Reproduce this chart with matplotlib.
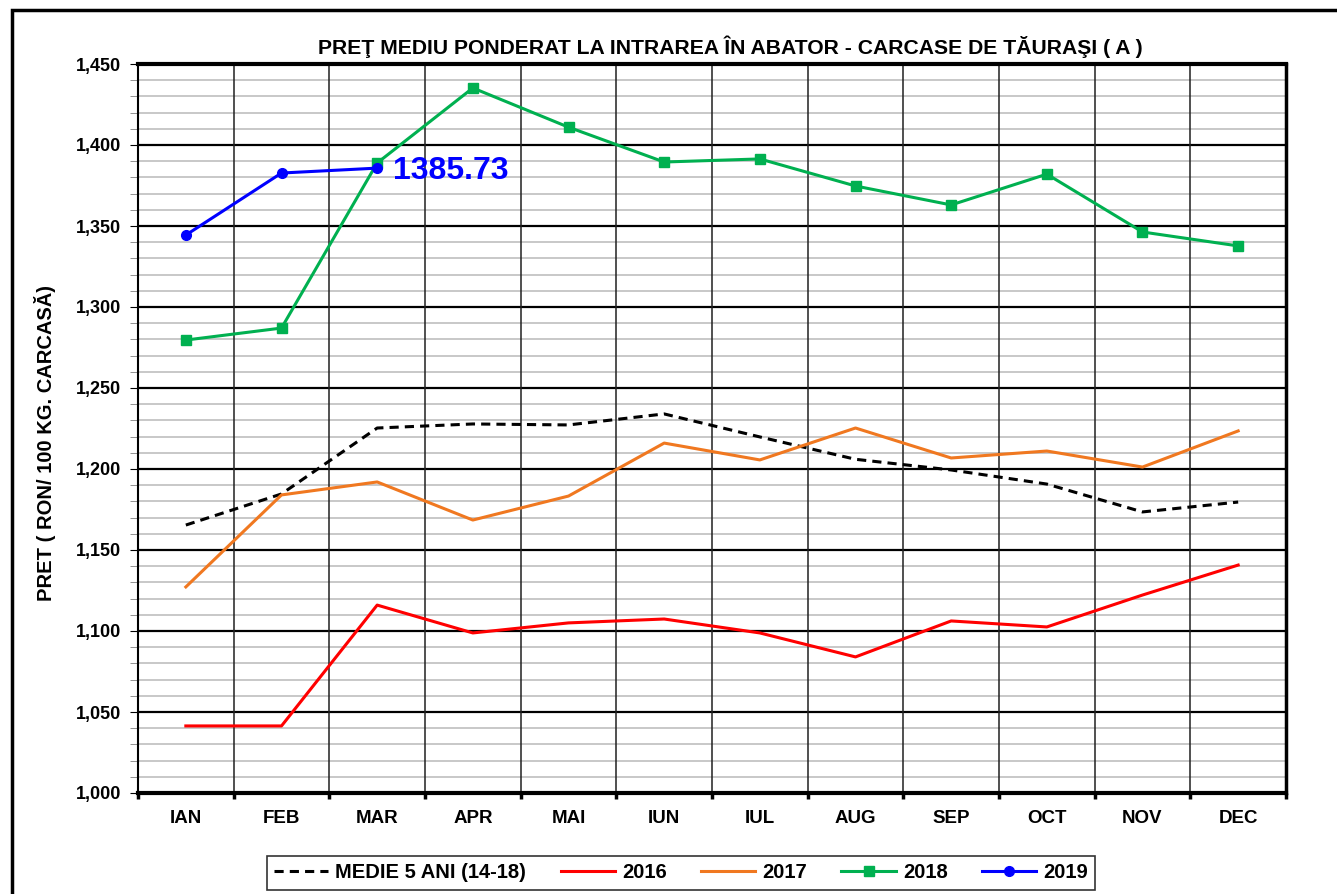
import numpy as np
import matplotlib.pyplot as plt
from matplotlib.ticker import MultipleLocator, FuncFormatter
from matplotlib.patches import Rectangle

plt.rcParams['font.family'] = ['Liberation Sans', 'DejaVu Sans']
plt.rcParams['font.weight'] = 'bold'

# Luni
luni = ["IAN", "FEB", "MAR", "APR", "MAI", "IUN", "IUL", "AUG", "SEP", "OCT", "NOV", "DEC"]

# Serii de pret (RON / 100 kg carcasa)
medie_5ani = [1165.4, 1184.6, 1225.3, 1227.8, 1227.2, 1234.0, 1219.8, 1206.0, 1199.4, 1190.7, 1173.5, 1179.6]
an_2016 = [1041.4, 1041.4, 1116.0, 1098.8, 1105.0, 1107.4, 1098.8, 1084.0, 1106.2, 1102.5, 1122.2, 1140.7]
an_2017 = [1127.2, 1184.0, 1192.0, 1168.5, 1183.3, 1216.0, 1205.6, 1225.3, 1206.8, 1211.1, 1201.2, 1223.5]
an_2018 = [1279.6, 1287.0, 1388.9, 1435.2, 1411.0, 1389.5, 1391.4, 1374.7, 1363.0, 1382.0, 1346.3, 1337.7]
an_2019 = [1344.4, 1382.7, 1385.73]

x = np.arange(len(luni))

fig = plt.figure(figsize=(13.37, 8.94), dpi=100)
ax = fig.add_axes([138/1337, 1-793/894, (1286-138)/1337, (793-64)/894])

# chenar exterior
fig.patches.append(Rectangle((12/1337, -0.1), 1.2, 1-10/894+0.1, transform=fig.transFigure,
                             fill=False, edgecolor='black', linewidth=2.5))

ax.set_xlim(-0.5, 11.5)
ax.set_ylim(1000, 1450)

# grila
ax.yaxis.set_major_locator(MultipleLocator(50))
ax.yaxis.set_minor_locator(MultipleLocator(10))
limite = np.arange(-0.5, len(luni), 1)
ax.set_xticks(limite, minor=True)
ax.grid(which='minor', axis='y', color='#c4c4c4', linewidth=1.3, zorder=0.5)
ax.grid(which='major', axis='y', color='black', linewidth=1.6, zorder=0.5)
ax.vlines(limite[1:-1], 1000, 1450, colors='#202020', linewidth=1.1, zorder=0.8)
ax.set_axisbelow(True)

ax.plot(x, medie_5ani, color='black', linestyle=(0, (3, 2)), lw=2.2, label='MEDIE 5 ANI (14-18)')
ax.plot(x, an_2016, color='#ff0000', lw=2.2, label='2016')
ax.plot(x, an_2017, color='#f07820', lw=2.2, label='2017')
ax.plot(x, an_2018, color='#00b050', lw=2.2, marker='s', markersize=7, label='2018')
ax.plot(x[:len(an_2019)], an_2019, color='#0000ff', lw=2.2, marker='o', markersize=7, label='2019')

ax.text(x[len(an_2019)-1] + 0.17, an_2019[-1] - 1.5, f"{an_2019[-1]:.2f}", color='#0000ff',
        fontsize=23, fontweight='bold', va='center', ha='left')

ax.set_xticks(x)
ax.set_xticklabels(luni, fontsize=13.5, fontweight='bold')
ax.tick_params(axis='x', which='major', length=0, pad=12)
ax.tick_params(axis='x', which='minor', length=4, width=2.5, direction='out')
ax.tick_params(axis='y', which='major', length=6, labelsize=13, pad=6)
ax.tick_params(axis='y', which='minor', length=6, color='#808080')
ax.yaxis.set_major_formatter(FuncFormatter(lambda v, p: f"{v:,.0f}"))

for s in ['top', 'bottom']:
    ax.spines[s].set_linewidth(3)
ax.spines['left'].set_linewidth(1.5)
ax.spines['right'].set_linewidth(2.5)

fig.text(730/1337, 1-47/894, "PREŢ MEDIU PONDERAT LA INTRAREA ÎN ABATOR - CARCASE DE TĂURAŞI ( A )",
         fontsize=15.2, fontweight='bold', ha='center', va='center')
fig.text(45/1337, 1-443/894, "PRET ( RON/ 100 KG. CARCASĂ)", rotation=90,
         fontsize=14.5, fontweight='bold', ha='center', va='center')

leg = fig.legend(loc='center', bbox_to_anchor=(681/1337, 1-873/894), ncol=5, frameon=True,
                 fancybox=False, edgecolor='black', handlelength=2.7, handletextpad=0.35,
                 columnspacing=1.7, borderpad=0.35, borderaxespad=0,
                 prop={'weight': 'bold', 'size': 14.5})
leg.get_frame().set_linewidth(1.2)

fig.savefig("out.png", dpi=100)
